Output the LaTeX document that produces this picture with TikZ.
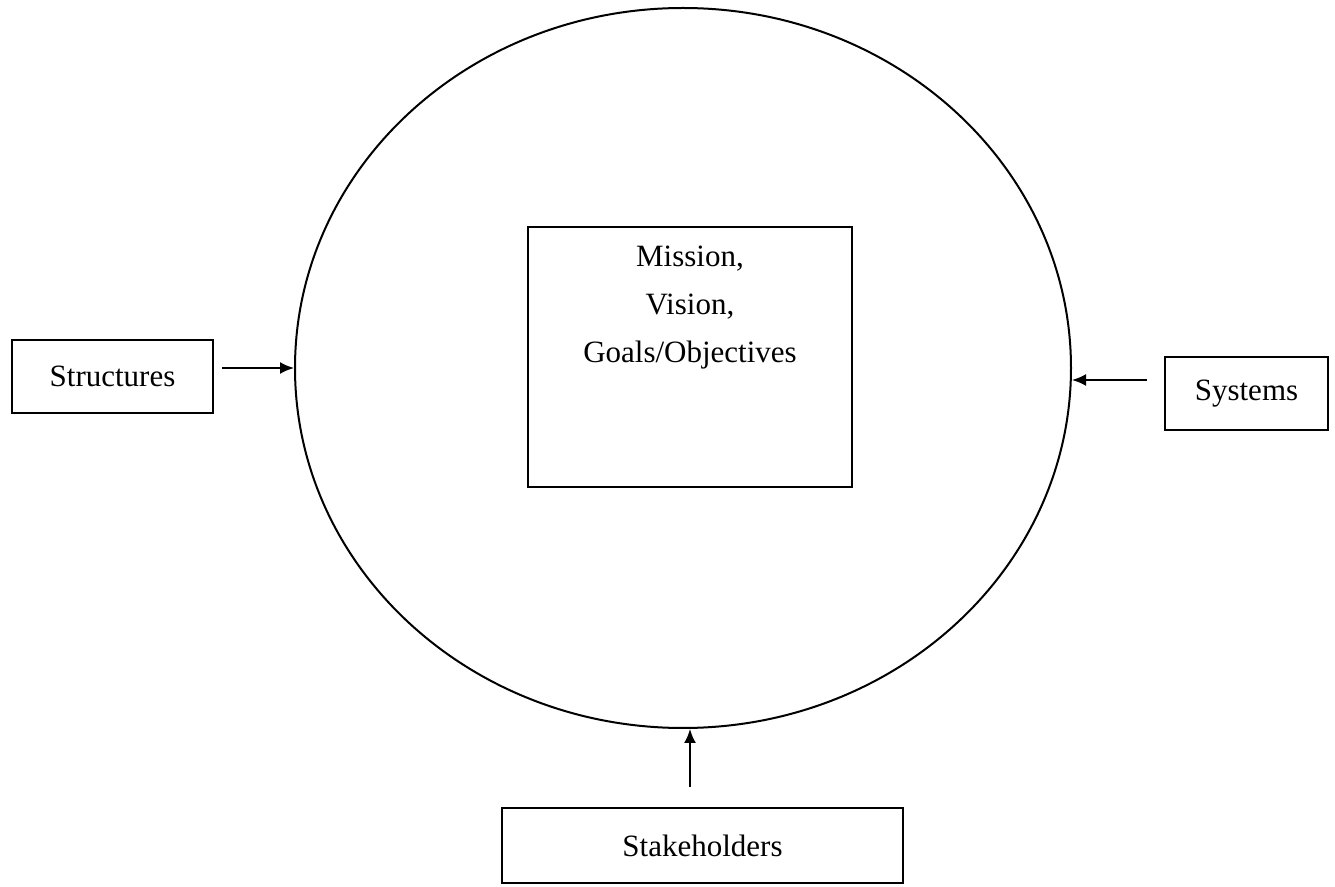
\documentclass[tikz,border=0pt]{standalone}
\usepackage{fontspec}
\setmainfont{Liberation Serif}
\usetikzlibrary{positioning, shapes.geometric, arrows.meta}

\begin{document}
\begin{tikzpicture}[x=0.5pt, y=-0.5pt, line width=1pt,
    >={Latex[length=7pt,width=6pt]},
    txt/.style={font=\fontsize{15.5}{24}\selectfont},
    box/.style={draw, rectangle, inner sep=0pt, txt}]

    \useasboundingbox (0,0) rectangle (1335,887);

    % Ellipse
    \node[draw, ellipse, minimum width=388pt, minimum height=360pt, inner sep=0pt] (org) at (683,368) {};

    % Cadre central
    \node[box, minimum width=162pt, minimum height=130pt] (mvg) at (690,357) {};
    \node[txt, align=center, inner sep=0pt, below=9.5pt of mvg.north] (mvgtext) {Mission,\\Vision,\\Goals/Objectives};

    % Cadres autour
    \node[box, minimum width=100.5pt, minimum height=36.5pt] (struct) at (112.5,376.5) {Structures};
    \node[box, minimum width=81.5pt, minimum height=36.5pt] (syst) at (1246.5,393.5) {Systems};
    \node[box, minimum width=200.5pt, minimum height=37.5pt] (stake) at (702.5,845.5) {Stakeholders};

    % Departs des fleches
    \coordinate (a1) at (222,368);
    \coordinate (a2) at (1147,380);
    \coordinate (a3) at (690,787);

    % Fleches vers l'ellipse
    \draw[->] (a1) -- (a1 -| org.west);
    \draw[->] (a2) -- (a2 -| org.east);
    \draw[->] (a3) -- (a3 |- org.south);

\end{tikzpicture}
\end{document}
